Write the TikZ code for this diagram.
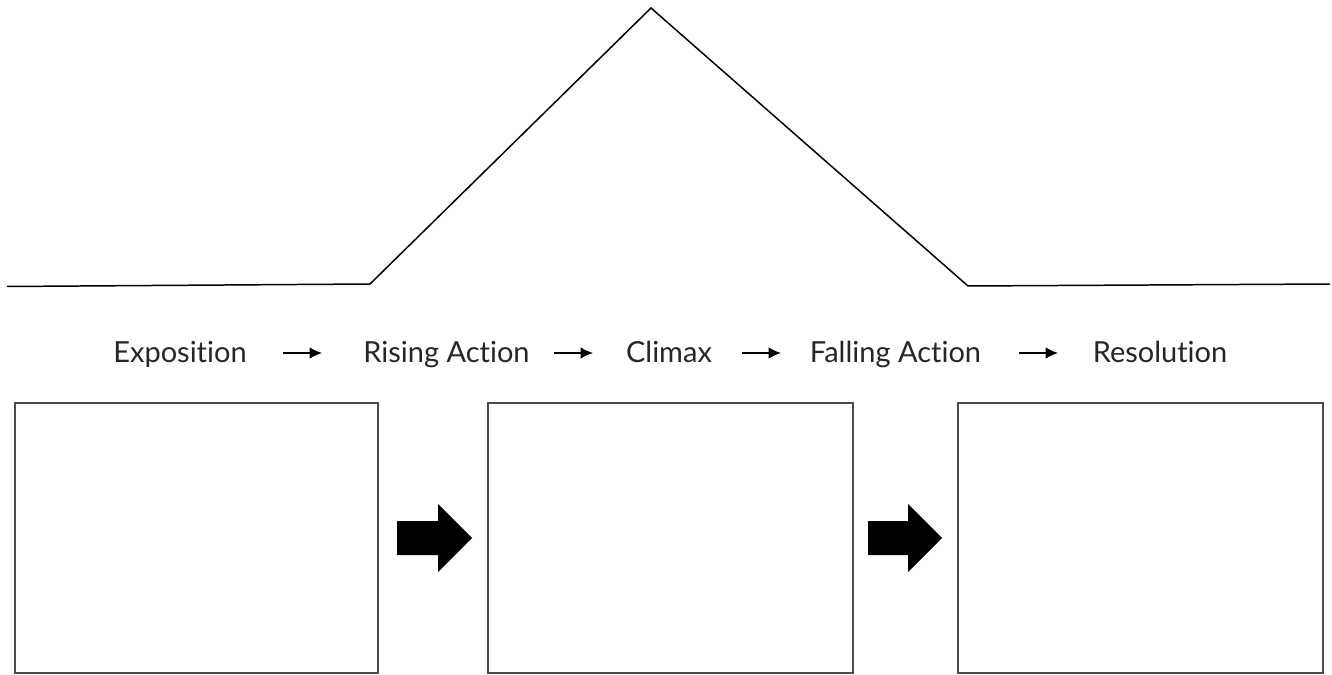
\documentclass[tikz,border=0pt]{standalone}
\usepackage{fontspec}
\setmainfont{Lato}[Ligatures={NoCommon}]
\usetikzlibrary{arrows.meta}
\tikzset{
  stage/.style={inner sep=0pt,anchor=base,text=black!85,font=\fontsize{16.5}{18}\selectfont},
  step arrow/.style={line width=0.8pt,-{Latex[length=7pt,width=6.5pt]}},
  panel/.style={draw=black!70,line width=0.8pt},
  bigarrow/.style={fill=black,draw=none},
}
\begin{document}
\begin{tikzpicture}[x=0.02cm,y=-0.02cm]
\useasboundingbox (0,0) rectangle (1332,675);
% plot line
\coordinate (p0) at (7,286.5);
\coordinate (p1) at (370,284);
\coordinate (peak) at (651,8);
\coordinate (p2) at (968,286);
\coordinate (p3) at (1330,284);
\draw[line width=0.85pt,line join=miter] (p0) to (p1) to (peak) to (p2) to (p3);
% stages
\node[stage] (expo) at (180,363) {Exposition};
\node[stage] (rise) at (446.5,363) {Rising Action};
\node[stage] (clim) at (669,363) {Climax};
\node[stage] (fall) at (895.5,363) {Falling Action};
\node[stage] (reso) at (1160,363) {Resolution};
\coordinate (a1s) at (283,353);
\coordinate (a1e) at (322,353);
\coordinate (a2s) at (554,353);
\coordinate (a2e) at (593,353);
\coordinate (a3s) at (742,353);
\coordinate (a3e) at (781,353);
\coordinate (a4s) at (1019,353);
\coordinate (a4e) at (1058,353);
\draw[step arrow] (a1s) to (a1e);
\draw[step arrow] (a2s) to (a2e);
\draw[step arrow] (a3s) to (a3e);
\draw[step arrow] (a4s) to (a4e);
% boxes
\draw[panel] (15,403) rectangle (378,673);
\draw[panel] (488,403) rectangle (853,673);
\draw[panel] (958,403) rectangle (1323,673);
% block arrows
\fill[bigarrow] (397,521) -- (438,521) -- (438,504) -- (472,538) -- (438,572) -- (438,555) -- (397,555) -- cycle;
\fill[bigarrow] (868,521) -- (908,521) -- (908,504) -- (942,538) -- (908,572) -- (908,555) -- (868,555) -- cycle;
\end{tikzpicture}
\end{document}
